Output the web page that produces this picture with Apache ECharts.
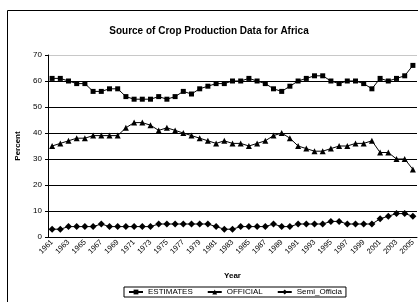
<!DOCTYPE html>
<html>
<head>
<meta charset="utf-8">
<script src="https://cdn.jsdelivr.net/npm/echarts@6/dist/echarts.min.js"></script>
<style>
    html, body { margin: 0; padding: 0; background: #fff; }
    #chart { width: 418px; height: 302px; }
</style>
</head>
<body>
<div id="chart"></div>
<script>
    // years 1961 - 2005
    var years = ['1961','1962','1963','1964','1965','1966','1967','1968','1969','1970',
        '1971','1972','1973','1974','1975','1976','1977','1978','1979','1980',
        '1981','1982','1983','1984','1985','1986','1987','1988','1989','1990',
        '1991','1992','1993','1994','1995','1996','1997','1998','1999','2000',
        '2001','2002','2003','2004','2005'];
    var estimates = [61,61,60,59,59,56,56,57,57,54,53,53,53,54,53,54,56,55,57,58,59,59,
        60,60,61,60,59,57,56,58,60,61,62,62,60,59,60,60,59,57,61,60,61,62,66];
    var official = [35,36,37,38,38,39,39,39,39,42,44,44,43,41,42,41,40,39,38,37,
        36,37,36,36,35,36,37,39,40,38,35,34,33,33,34,35,35,36,36,37,32.5,32.5,30,30,26];
    var semiOfficial = [3,3,4,4,4,4,5,4,4,4,4,4,4,5,5,5,5,5,5,5,4,3,3,4,4,4,4,5,4,4,
        5,5,5,5,6,6,5,5,5,5,7,8,9,9,8];
    var seriesNames = ['ESTIMATES', 'OFFICIAL', 'Semi_Officia'];
    var yTicks = [0, 10, 20, 30, 40, 50, 60, 70];

    var chart = echarts.init(document.getElementById('chart'));
    var font = 'Liberation Sans, Arial, sans-serif';

    function lineSeries(name, data, symbol, size) {
        return {
            name: name,
            type: 'line',
            data: data,
            symbol: symbol,
            symbolSize: size,
            showAllSymbol: true,
            animation: false,
            lineStyle: { color: '#000', width: 1 },
            itemStyle: { color: '#000' }
        };
    }

    var option = {
        animation: false,
        title: {
            text: 'Source of Crop Production Data for Africa',
            left: 'center',
            top: 21,
            textStyle: { fontFamily: font, fontSize: 10, fontWeight: 'bold', color: '#000' }
        },
        graphic: [{
            type: 'rect',
            shape: { x: 7.5, y: 10.5, width: 430, height: 320 },
            style: { fill: 'none', stroke: '#000', lineWidth: 1 },
            silent: true
        }],
        grid: { left: 48, right: 1, top: 55, bottom: 65, containLabel: false },
        legend: {
            data: seriesNames,
            left: 124,
            top: 287,
            itemWidth: 14,
            itemHeight: 6,
            itemGap: 14,
            padding: [1, 4, 1, 4],
            borderColor: '#000',
            borderWidth: 1,
            textStyle: { fontFamily: font, fontSize: 8, color: '#000' }
        },
        xAxis: {
            type: 'category',
            data: years,
            boundaryGap: true,
            name: 'Year',
            nameLocation: 'middle',
            nameGap: 35,
            nameTextStyle: { fontFamily: font, fontSize: 8, fontWeight: 'bold', color: '#000' },
            axisLine: { lineStyle: { color: '#000', width: 1 } },
            axisTick: { interval: 0, length: 3, lineStyle: { color: '#000' } },
            axisLabel: {
                interval: 1,
                rotate: 45,
                margin: 4,
                fontFamily: font,
                fontSize: 7.5,
                color: '#000'
            },
            splitLine: { show: false }
        },
        yAxis: {
            type: 'value',
            min: yTicks[0],
            max: yTicks[yTicks.length - 1],
            interval: 10,
            name: 'Percent',
            nameLocation: 'middle',
            nameGap: 25,
            nameTextStyle: { fontFamily: font, fontSize: 8, fontWeight: 'bold', color: '#000' },
            axisLine: { show: true, lineStyle: { color: '#000', width: 1 } },
            axisTick: { show: true, length: 3, lineStyle: { color: '#000' } },
            axisLabel: { margin: 6, fontFamily: font, fontSize: 8, color: '#000' },
            splitLine: {
                show: true,
                lineStyle: {
                    color: ['#000', '#000', '#000', '#000', '#000', '#000', '#000', '#c8c8c8'],
                    width: 1
                }
            }
        },
        series: [
            lineSeries(seriesNames[0], estimates, 'rect', 5),
            lineSeries(seriesNames[1], official, 'triangle', 6),
            lineSeries(seriesNames[2], semiOfficial, 'diamond', 7)
        ]
    };
    chart.setOption(option);
</script>
</body>
</html>
